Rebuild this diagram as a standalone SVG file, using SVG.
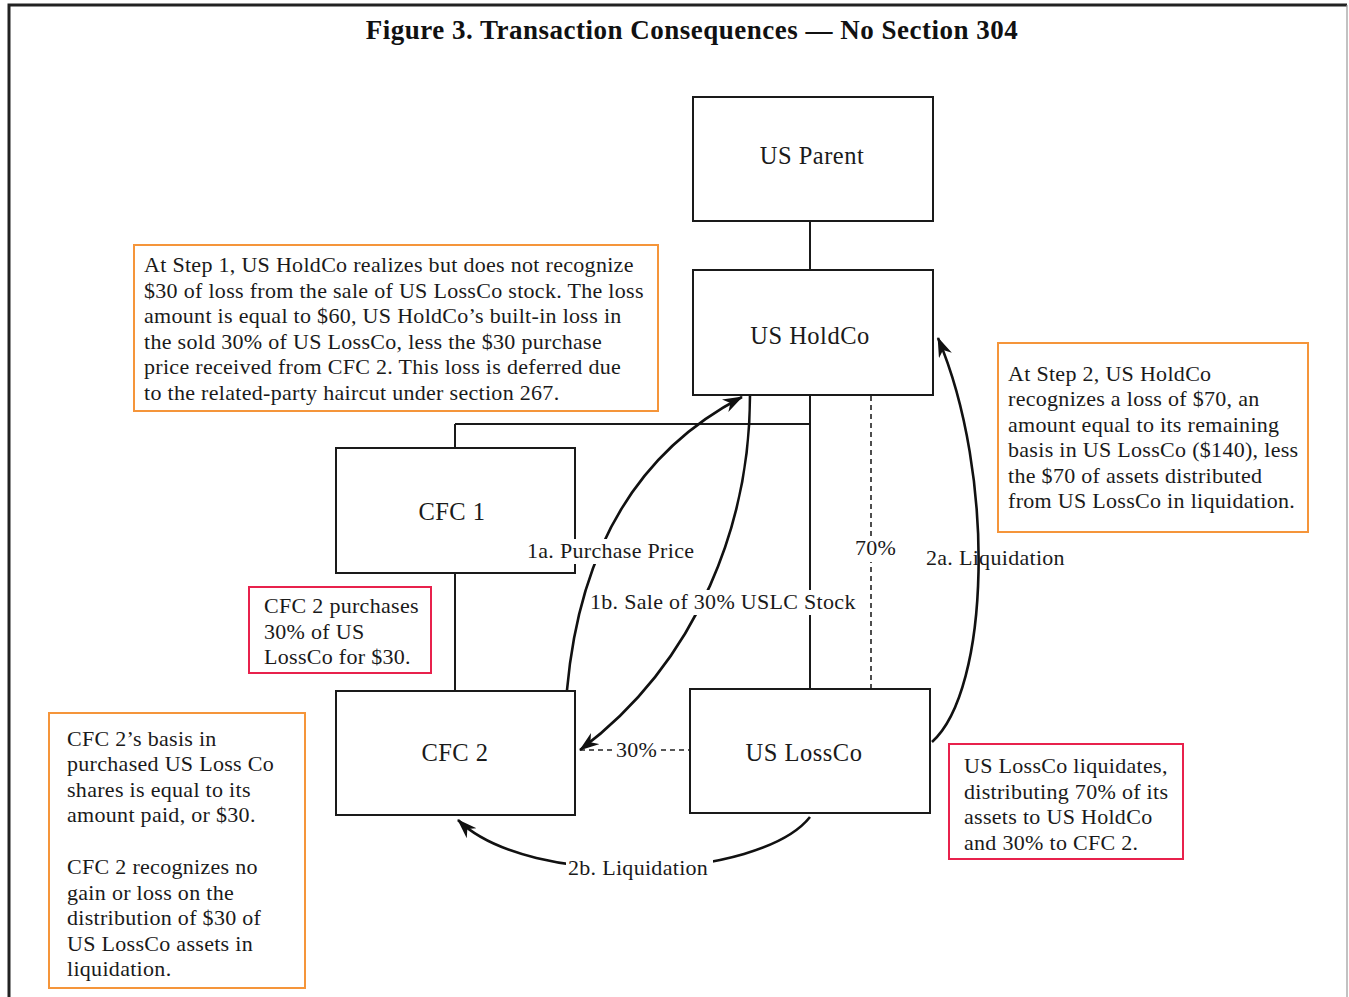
<svg xmlns="http://www.w3.org/2000/svg" width="1349" height="997" viewBox="0 0 1349 997">
<defs>
<style>
.t{font-family:"Liberation Serif","Times New Roman",serif;font-size:22px;letter-spacing:0.3px;fill:#1a1a1a}
.n{font-family:"Liberation Serif","Times New Roman",serif;font-size:24.5px;letter-spacing:0.5px;fill:#1a1a1a;text-anchor:middle}
.title{font-family:"Liberation Serif","Times New Roman",serif;font-size:27px;font-weight:bold;letter-spacing:0.5px;fill:#111;text-anchor:middle}
.box{fill:#fff;stroke:#1a1a1a;stroke-width:2}
.ob{fill:#fff;stroke:#F5953A;stroke-width:2}
.rb{fill:#fff;stroke:#E8214C;stroke-width:2}
.ln{fill:none;stroke:#1a1a1a;stroke-width:2}
.ar{fill:none;stroke:#111;stroke-width:2.6}
.dash{fill:none;stroke:#222;stroke-width:1.6;stroke-dasharray:5,4}
.bg{fill:#fff}
</style>
<marker id="ah" markerUnits="userSpaceOnUse" markerWidth="22" markerHeight="16" refX="19" refY="7" orient="auto">
<path d="M0,0 L20,7 L0,14 L6,7 z" fill="#111"/>
</marker>
</defs>
<rect width="1349" height="997" fill="#fff"/>
<g id="frame">
<path d="M9,997 V5 H1347" fill="none" stroke="#222" stroke-width="3"/>
<path d="M1347,5 V997" fill="none" stroke="#999" stroke-width="1.2"/>
</g>
<text id="title" class="title" x="692" y="39">Figure 3. Transaction Consequences — No Section 304</text>
<g id="connectors">
<path class="ln" d="M810,221 V270"/>
<path class="ln" d="M810,395 V689"/>
<path class="ln" d="M455,424 H810"/>
<path class="ln" d="M455,424 V448"/>
<path class="ln" d="M455,573 V691"/>
<path class="dash" d="M871,396 V689"/>
<path class="dash" d="M580,750 H690"/>
<path class="ar" d="M567,690 Q586,478 742,397" marker-end="url(#ah)"/>
<path class="ar" d="M750,395 C750,520 700,660 580,750" marker-end="url(#ah)"/>
<path class="ar" d="M932,742 C990,690 996,475 938,338" marker-end="url(#ah)"/>
<path class="ar" d="M810,817 C760,880 530,890 458,820" marker-end="url(#ah)"/>
</g>
<g id="us-parent">
<rect class="box" x="693" y="97" width="240" height="124"/>
<text class="n" x="812" y="164">US Parent</text>
</g>
<g id="us-holdco">
<rect class="box" x="693" y="270" width="240" height="125"/>
<text class="n" x="810" y="344">US HoldCo</text>
</g>
<g id="cfc1">
<rect class="box" x="336" y="448" width="239" height="125"/>
<text class="n" x="452" y="520">CFC 1</text>
</g>
<g id="cfc2">
<rect class="box" x="336" y="691" width="239" height="124"/>
<text class="n" x="455" y="761">CFC 2</text>
</g>
<g id="us-lossco">
<rect class="box" x="690" y="689" width="240" height="124"/>
<text class="n" x="804" y="761">US LossCo</text>
</g>
<g id="connector-labels">
<rect class="bg" x="525" y="539" width="173" height="25"/>
<text class="t" x="527" y="558">1a. Purchase Price</text>
<rect class="bg" x="588" y="590" width="260" height="25"/>
<text class="t" x="590" y="609">1b. Sale of 30% USLC Stock</text>
<rect class="bg" x="853" y="536" width="42" height="26"/>
<text class="t" x="855" y="555">70%</text>
<text class="t" x="926" y="565">2a. Liquidation</text>
<rect class="bg" x="613" y="739" width="48" height="24"/>
<text class="t" x="616" y="757">30%</text>
<rect class="bg" x="566" y="856" width="147" height="25"/>
<text class="t" x="568" y="875">2b. Liquidation</text>
</g>
<g id="note-step1">
<rect class="ob" x="134" y="245" width="524" height="166"/>
<text class="t" x="144" y="272">At Step 1, US HoldCo realizes but does not recognize</text>
<text class="t" x="144" y="298">$30 of loss from the sale of US LossCo stock. The loss</text>
<text class="t" x="144" y="323">amount is equal to $60, US HoldCo’s built-in loss in</text>
<text class="t" x="144" y="349">the sold 30% of US LossCo, less the $30 purchase</text>
<text class="t" x="144" y="374">price received from CFC 2. This loss is deferred due</text>
<text class="t" x="144" y="400">to the related-party haircut under section 267.</text>
</g>
<g id="note-step2">
<rect class="ob" x="998" y="343" width="310" height="189"/>
<text class="t" x="1008" y="381">At Step 2, US HoldCo</text>
<text class="t" x="1008" y="406">recognizes a loss of $70, an</text>
<text class="t" x="1008" y="432">amount equal to its remaining</text>
<text class="t" x="1008" y="457">basis in US LossCo ($140), less</text>
<text class="t" x="1008" y="483">the $70 of assets distributed</text>
<text class="t" x="1008" y="508">from US LossCo in liquidation.</text>
</g>
<g id="note-cfc2-purchase">
<rect class="rb" x="249" y="587" width="182" height="86"/>
<text class="t" x="264" y="613">CFC 2 purchases</text>
<text class="t" x="264" y="639">30% of US</text>
<text class="t" x="264" y="664">LossCo for $30.</text>
</g>
<g id="note-cfc2-basis">
<rect class="ob" x="49" y="713" width="256" height="275"/>
<text class="t" x="67" y="746">CFC 2’s basis in</text>
<text class="t" x="67" y="771">purchased US Loss Co</text>
<text class="t" x="67" y="797">shares is equal to its</text>
<text class="t" x="67" y="822">amount paid, or $30.</text>
<text class="t" x="67" y="874">CFC 2 recognizes no</text>
<text class="t" x="67" y="900">gain or loss on the</text>
<text class="t" x="67" y="925">distribution of $30 of</text>
<text class="t" x="67" y="951">US LossCo assets in</text>
<text class="t" x="67" y="976">liquidation.</text>
</g>
<g id="note-liquidation">
<rect class="rb" x="949" y="744" width="234" height="115"/>
<text class="t" x="964" y="773">US LossCo liquidates,</text>
<text class="t" x="964" y="799">distributing 70% of its</text>
<text class="t" x="964" y="824">assets to US HoldCo</text>
<text class="t" x="964" y="850">and 30% to CFC 2.</text>
</g>
</svg>
